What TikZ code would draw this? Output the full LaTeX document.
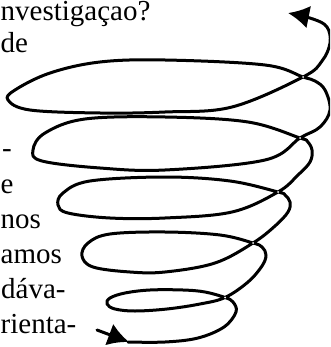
\documentclass[tikz,border=0pt]{standalone}
\usepackage{fontspec}
\setmainfont{Liberation Serif}
\usetikzlibrary{arrows.meta}

\tikzset{
  txt/.style={anchor=base west, inner sep=0pt, font=\fontsize{29}{35}\selectfont},
  spiral/.style={line width=3pt, line cap=round, line join=round},
  tip/.style={-{Latex[length=21pt,width=23pt]}}
}

\begin{document}
\begin{tikzpicture}[x=1pt,y=-1pt]
\useasboundingbox (0,0) rectangle (330,347);
\clip (0,0) rectangle (330,347);
% text beside the spiral
\node[txt] (l1) at (0.5,20.5) {nvestigaçao?};
\node[txt] (l2) at (0.5,53) {de};
\node[txt] (l5) at (2,158) {-};
\node[txt] (l6) at (0.5,193) {e};
\node[txt] (l7) at (0.5,228) {nos};
\node[txt] (l8) at (0.5,263) {amos};
\node[txt] (l9) at (1,298) {dáva-};
\node[txt] (l10) at (0.5,333) {rienta-};
% spiral
\draw[spiral,tip] plot[smooth, tension=0.6] coordinates {
  (128,342) (165,342) (198,338) (224,327) (236,312) (233,302) (225,297.5)
  (205,292) (183,290) (150,290) (125,293) (110,298) (107,304) (115,309)
  (135,311) (167,309) (200,304) (225,297.5)
  (248,282) (262,266) (266,255) (262,247) (253,243)
  (220,235) (165,232) (110,234) (88,243) (82,256) (93,267) (130,272)
  (165,272) (215,263) (253,243)
  (275,226) (288,212) (290,202) (285,195) (278,192)
  (230,181) (165,177) (90,181) (63,193) (58,205) (68,213) (110,218)
  (165,218) (232,212) (278,192)
  (298,175) (310,162) (312,150) (307,141) (300,138)
  (248,122) (165,117) (85,119) (45,133) (33,150) (42,161) (100,168)
  (165,170) (265,160) (300,138)
  (320,127) (330,110) (325,90) (315,81) (303,77)
  (265,65) (165,60) (100,62) (50,73) (15,90) (8,100) (30,110) (100,113)
  (165,112) (232,107) (303,77)
  (322,61) (330,43) (327,27) (313,19) (288,13)};
\draw[spiral,tip] (97,330) -- (129,342);
% small white specks where the loops cross
\foreach \p in {(303,77),(300,138),(278,192),(253,243),(225,297.5)}
  \fill[white] \p circle (1pt);
\end{tikzpicture}
\end{document}
